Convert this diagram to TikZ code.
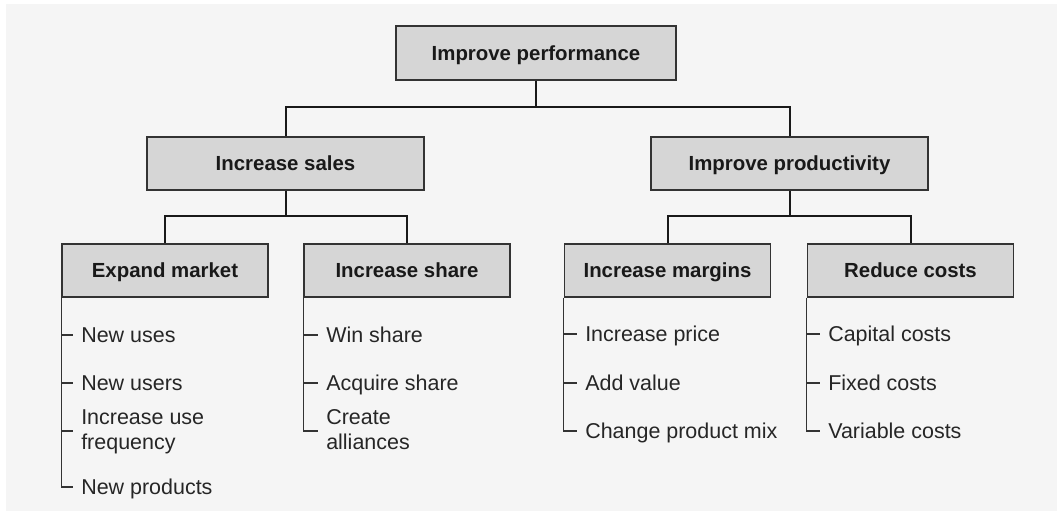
\documentclass[tikz,border=0pt]{standalone}
\usepackage{fontspec}
\setmainfont{Liberation Sans}
\begin{document}
\begin{tikzpicture}[x=0.75pt,y=-0.75pt,
  boxbase/.style={draw=black!80, line width=1.1pt, fill=black!16, inner sep=0pt,
    text=black!90, font=\bfseries\fontsize{15.3}{18}\selectfont, minimum height=39.75pt,
    text height=11pt, text depth=0pt},
  topbox/.style={boxbase, minimum width=210pt, minimum height=40.5pt},
  midbox/.style={boxbase, minimum width=207.75pt},
  lowbox/.style={boxbase, minimum width=154.5pt},
  conn/.style={draw=black!90, line width=1.5pt},
  tree/.style={draw=black!80, line width=1pt, shorten >=6pt},
  item/.style={anchor=west, inner sep=0pt, text=black!85, align=left,
    font=\fontsize{16.1}{18.75}\selectfont, text height=11.6pt, text depth=0pt},
  item2/.style={item, text height=30.35pt, text depth=2.35pt}]
\useasboundingbox (0,0) rectangle (1061,514);
\fill[white] (0,0) rectangle (1061,514);
\fill[black!4] (6,4) rectangle (1057,511);

% boxes
\node[topbox] (top)  at (536,53)      {Improve performance};
\node[midbox] (sales) at (285.5,163.5) {Increase sales};
\node[midbox] (prod)  at (789.5,163.5) {Improve productivity};
\node[lowbox] (em) at (165,270.5)   {Expand market};
\node[lowbox] (is) at (407,270.5)   {Increase share};
\node[lowbox] (im) at (667.5,270.5) {Increase margins};
\node[lowbox] (rc) at (910.5,270.5) {Reduce costs};

% junctions
\coordinate (j1) at (536,107);
\coordinate (j2) at (285.5,216);
\coordinate (j3) at (789.5,216);

\draw[conn] (top.south) -- (j1) -| (sales.north);
\draw[conn] (j1) -| (prod.north);
\draw[conn] (sales.south) -- (j2) -| (em.north);
\draw[conn] (j2) -| (is.north);
\draw[conn] (prod.south) -- (j3) -| (im.north);
\draw[conn] (j3) -| (rc.north);

% items: Expand market
\node[item]  (em1) at (81,335) {New uses};
\node[item]  (em2) at (81,383) {New users};
\node[item2] (em3) at (81,431) {Increase use\\frequency};
\node[item]  (em4) at (81,487) {New products};
% items: Increase share
\node[item]  (is1) at (326,335) {Win share};
\node[item]  (is2) at (326,383) {Acquire share};
\node[item2] (is3) at (326,431) {Create\\alliances};
% items: Increase margins
\node[item]  (im1) at (585,334) {Increase price};
\node[item]  (im2) at (585,383) {Add value};
\node[item]  (im3) at (585,431) {Change product mix};
% items: Reduce costs
\node[item]  (rc1) at (828,334) {Capital costs};
\node[item]  (rc2) at (828,383) {Fixed costs};
\node[item]  (rc3) at (828,431) {Variable costs};

% bracket lines
\draw[tree] (em.south west) |- (em4.west);
\draw[tree] (em1.west -| em.south west) -- (em1.west);
\draw[tree] (em2.west -| em.south west) -- (em2.west);
\draw[tree] (em3.west -| em.south west) -- (em3.west);

\draw[tree] (is.south west) |- (is3.west);
\draw[tree] (is1.west -| is.south west) -- (is1.west);
\draw[tree] (is2.west -| is.south west) -- (is2.west);

\draw[tree] (im.south west) |- (im3.west);
\draw[tree] (im1.west -| im.south west) -- (im1.west);
\draw[tree] (im2.west -| im.south west) -- (im2.west);

\draw[tree] (rc.south west) |- (rc3.west);
\draw[tree] (rc1.west -| rc.south west) -- (rc1.west);
\draw[tree] (rc2.west -| rc.south west) -- (rc2.west);
\end{tikzpicture}
\end{document}
